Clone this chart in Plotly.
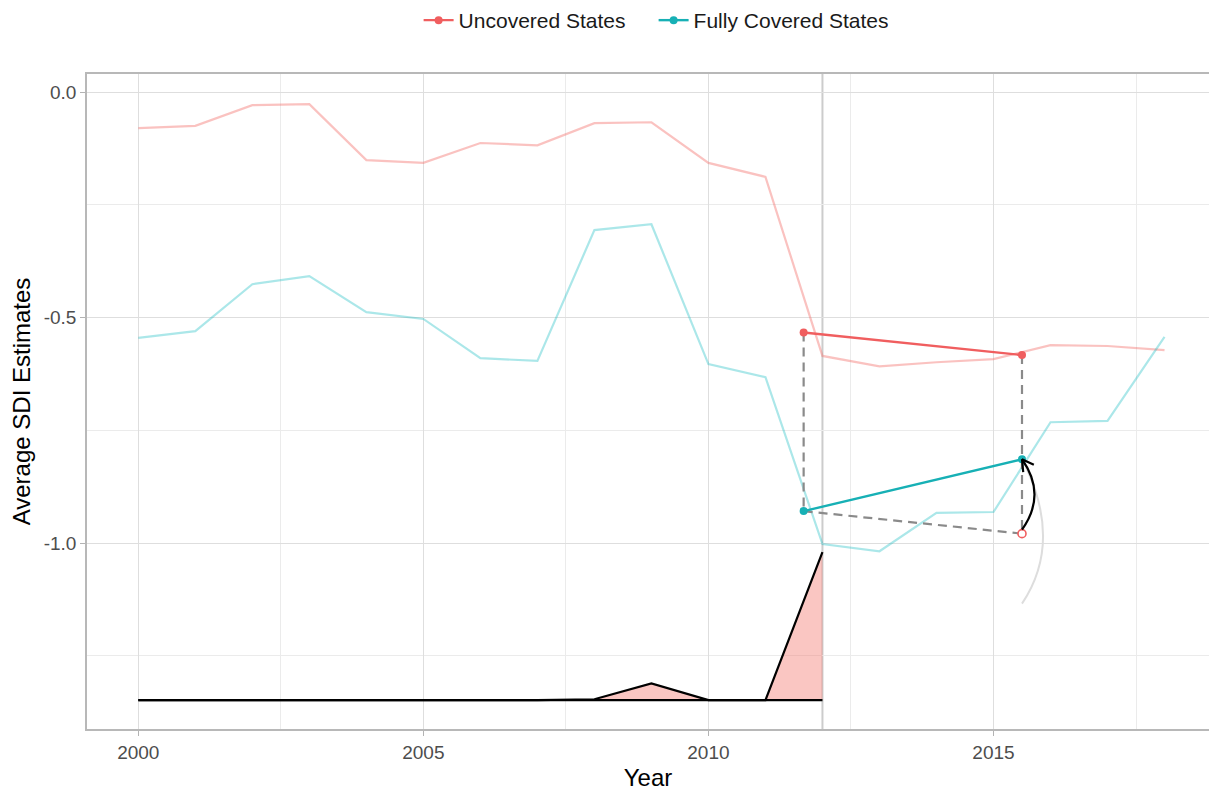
import math
import plotly.graph_objects as go

# ---- data -------------------------------------------------------------
years = list(range(2000, 2019))
uncovered = [-0.080, -0.075, -0.029, -0.027, -0.151, -0.157, -0.113, -0.118,
             -0.069, -0.067, -0.157, -0.188, -0.585, -0.608, -0.599, -0.592,
             -0.561, -0.563, -0.572]
covered = [-0.545, -0.530, -0.426, -0.408, -0.488, -0.503, -0.590, -0.596,
           -0.306, -0.293, -0.603, -0.632, -1.002, -1.018, -0.933, -0.931,
           -0.732, -0.729, -0.543]

# pre/post period means used for the difference-in-differences sketch
period_x = [2011.67, 2015.5]
uncovered_means = [-0.533, -0.583]
covered_means = [-0.929, -0.814]

# weight profile drawn along the bottom of the panel (pre-treatment years)
weight_years = list(range(2000, 2013))
weight_base = -1.348
weight_line = [-1.348, -1.348, -1.348, -1.348, -1.348, -1.348, -1.348, -1.348,
               -1.346, -1.311, -1.348, -1.348, -1.020]

treatment_year = 2012

# counterfactual: covered pre mean plus the change among uncovered states
counterfactual = covered_means[0] + (uncovered_means[1] - uncovered_means[0])

RED = "#F05E5F"
TEAL = "#17B0B5"
RED_FAINT = "rgba(244,110,104,0.42)"
TEAL_FAINT = "rgba(0,181,188,0.33)"

# ---- geometry helpers for the annotation curves --------------------------
W, H = 1209, 793
ML, MR, MT, MB = 87, 0, 74, 64
XR = [1999.1, 2018.78]
YR = [-1.412, 0.04]
PW, PH = W - ML - MR, H - MT - MB


def px(x):
    return (x - XR[0]) / (XR[1] - XR[0]) * PW


def py(y):
    return (YR[1] - y) / (YR[1] - YR[0]) * PH


def dx(p):
    return XR[0] + p / PW * (XR[1] - XR[0])


def dy(p):
    return YR[1] - p / PH * (YR[1] - YR[0])


def path_q(p0, p1, p2):
    return (f"M {dx(p0[0])},{dy(p0[1])} Q {dx(p1[0])},{dy(p1[1])} "
            f"{dx(p2[0])},{dy(p2[1])}")


fig = go.Figure()

# faint yearly series
fig.add_trace(go.Scatter(x=years, y=uncovered, mode="lines",
                         line=dict(color=RED_FAINT, width=2.2),
                         showlegend=False, hoverinfo="skip"))
fig.add_trace(go.Scatter(x=years, y=covered, mode="lines",
                         line=dict(color=TEAL_FAINT, width=2.2),
                         showlegend=False, hoverinfo="skip"))

# weight profile with shaded area
fig.add_trace(go.Scatter(x=weight_years, y=[weight_base] * len(weight_years),
                         mode="lines", line=dict(color="black", width=2.2),
                         showlegend=False, hoverinfo="skip"))
fig.add_trace(go.Scatter(x=weight_years, y=weight_line, mode="lines",
                         fill="tonexty", fillcolor="rgba(244,120,110,0.42)",
                         line=dict(color="black", width=2.2),
                         showlegend=False, hoverinfo="skip"))

# dashed guide lines
dash_style = dict(color="#8A8A8A", width=2.2, dash="9px,6px")
fig.add_trace(go.Scatter(x=[period_x[0], period_x[0]],
                         y=[uncovered_means[0], covered_means[0]],
                         mode="lines", line=dash_style, showlegend=False,
                         hoverinfo="skip"))
fig.add_trace(go.Scatter(x=[period_x[1], period_x[1]],
                         y=[uncovered_means[1], counterfactual],
                         mode="lines", line=dash_style, showlegend=False,
                         hoverinfo="skip"))
fig.add_trace(go.Scatter(x=period_x, y=[covered_means[0], counterfactual],
                         mode="lines", line=dash_style, showlegend=False,
                         hoverinfo="skip"))

# period means
fig.add_trace(go.Scatter(x=period_x, y=uncovered_means, mode="lines+markers",
                         name="Uncovered States",
                         line=dict(color=RED, width=2.4),
                         marker=dict(color=RED, size=8)))
fig.add_trace(go.Scatter(x=period_x, y=covered_means, mode="lines+markers",
                         name="Fully Covered States",
                         line=dict(color=TEAL, width=2.4),
                         marker=dict(color=TEAL, size=8)))

# counterfactual point
fig.add_trace(go.Scatter(x=[period_x[1]], y=[counterfactual], mode="markers",
                         marker=dict(color="white", size=8,
                                     line=dict(color=RED, width=1.6)),
                         showlegend=False, hoverinfo="skip"))

shapes = []
# treatment line
shapes.append(dict(type="line", xref="x", yref="paper",
                   x0=treatment_year, x1=treatment_year, y0=0, y1=1,
                   line=dict(color="#CCCCCC", width=2), layer="below"))

# faded ghost arc
gx = px(period_x[1])
g0 = (gx, py(counterfactual) + 70)
g1 = (gx + 40, py(counterfactual) + 10)
g2 = (gx + 4, py(covered_means[1]) + 8)
shapes.append(dict(type="path", path=path_q(g0, g1, g2),
                   line=dict(color="#DDDDDD", width=2)))

# curved arrow from counterfactual to observed post mean
a0 = (gx, py(counterfactual) - 4)
a2 = (gx, py(covered_means[1]))
a1 = (gx + 25, (a0[1] + a2[1]) / 2)
shapes.append(dict(type="path", path=path_q(a0, a1, a2),
                   line=dict(color="black", width=2.2)))
ux, uy = a2[0] - a1[0], a2[1] - a1[1]
n = math.hypot(ux, uy)
ux, uy = ux / n, uy / n
for ang in (math.radians(30), math.radians(-30)):
    rx = ux * math.cos(ang) - uy * math.sin(ang)
    ry = ux * math.sin(ang) + uy * math.cos(ang)
    tip = (a2[0] - 13 * rx, a2[1] - 13 * ry)
    shapes.append(dict(type="line", xref="x", yref="y",
                       x0=dx(tip[0]), y0=dy(tip[1]),
                       x1=dx(a2[0]), y1=dy(a2[1]),
                       line=dict(color="black", width=2.2)))

FONT = "Liberation Sans, Arial, Helvetica, sans-serif"

fig.update_layout(
    width=W, height=H,
    margin=dict(l=ML, r=MR, t=MT, b=MB),
    paper_bgcolor="white", plot_bgcolor="white",
    font=dict(family=FONT, color="#1A1A1A"),
    shapes=shapes,
    legend=dict(orientation="h", x=0.505, xanchor="center",
                y=1 + MT / PH, yanchor="top",
                font=dict(size=21, color="#1A1A1A"),
                traceorder="normal", itemwidth=30, entrywidth=190),
    xaxis=dict(
        range=XR, tickvals=[2000, 2005, 2010, 2015],
        ticktext=["2000", "2005", "2010", "2015"],
        showgrid=True, gridcolor="#DEDEDE", gridwidth=1.2,
        minor=dict(tickvals=[2002.5, 2007.5, 2012.5, 2017.5], showgrid=True,
                   gridcolor="#EBEBEB", gridwidth=0.8, ticklen=0),
        ticks="outside", ticklen=5, tickcolor="#B3B3B3", tickwidth=1.2,
        tickfont=dict(size=19, color="#4D4D4D"),
        showline=True, linecolor="#B8B8B8", linewidth=1.5, mirror=True,
        zeroline=False,
        title=dict(text="Year", font=dict(size=24, color="#000000"),
                   standoff=8),
    ),
    yaxis=dict(
        range=YR, tickvals=[0, -0.5, -1.0], ticktext=["0.0", "-0.5", "-1.0"],
        showgrid=True, gridcolor="#DEDEDE", gridwidth=1.2,
        minor=dict(tickvals=[-0.25, -0.75, -1.25], showgrid=True,
                   gridcolor="#EBEBEB", gridwidth=0.8, ticklen=0),
        ticks="outside", ticklen=5, tickcolor="#B3B3B3", tickwidth=1.2,
        tickfont=dict(size=19, color="#4D4D4D"),
        showline=True, linecolor="#B8B8B8", linewidth=1.5, mirror=False,
        zeroline=False,
        title=dict(text="Average SDI Estimates",
                   font=dict(size=24, color="#000000"), standoff=6),
    ),
)

fig.write_html("out.html")
